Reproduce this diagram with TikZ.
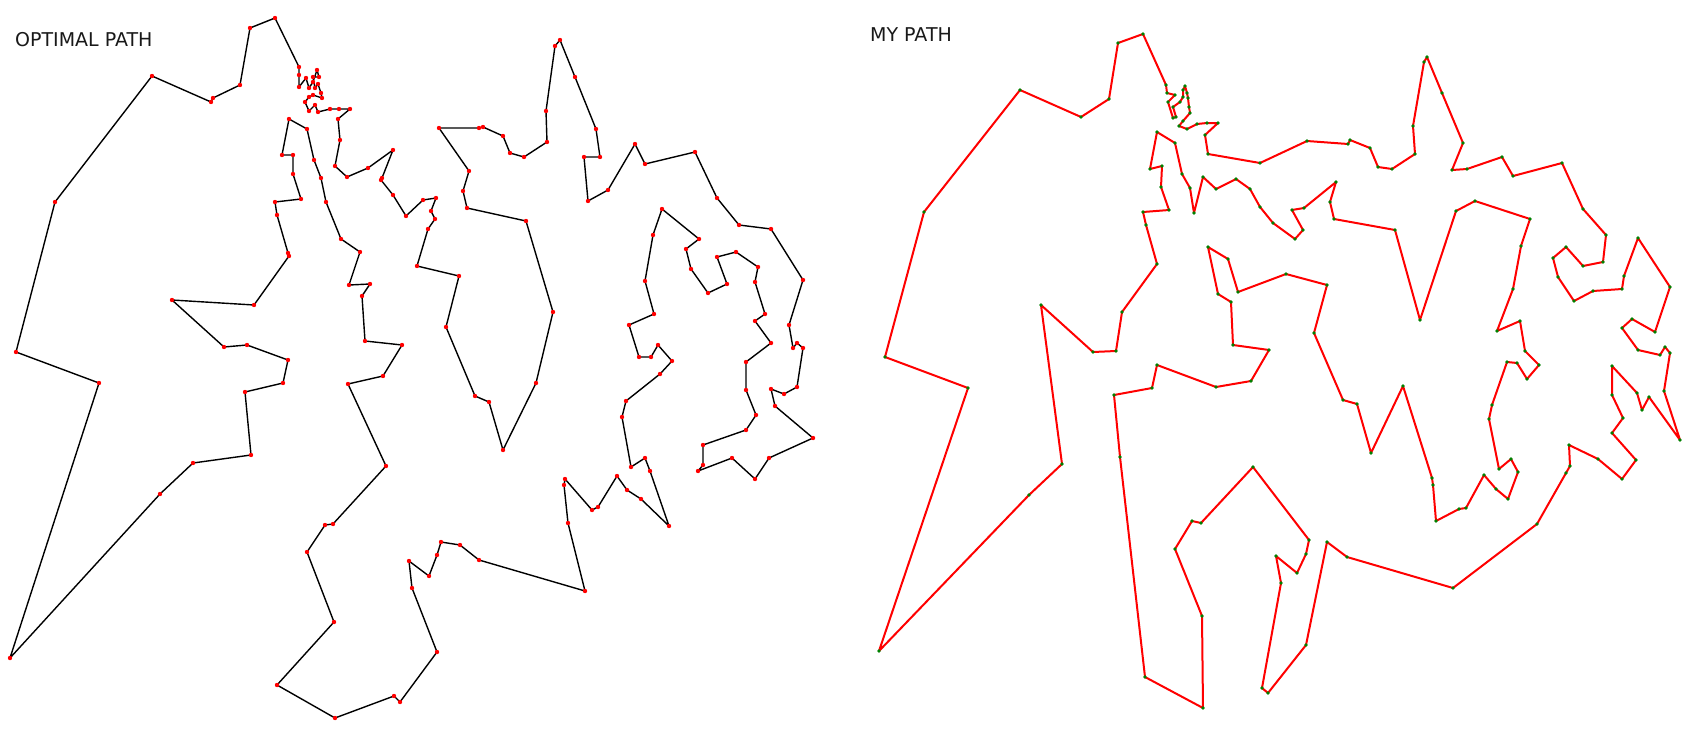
\documentclass[tikz,border=0pt]{standalone}
\usepackage{fontspec}
\setmainfont{DejaVu Sans}
\tikzset{
  lpath/.style={black, line width=1.4pt, line join=round},
  rpath/.style={red, line width=2pt, line join=round},
  ldot/.style={fill=red},
  rdot/.style={fill=green!50!black},
  title/.style={anchor=base west, inner sep=0pt, font=\fontsize{19}{22}\selectfont, text=black!90}
}
\def\Lpts{(275,18),(299,67),(299,75),(299,87),(306,78),(309,88),(313,82),(317,70),(319,77),(313,77),(315,88),(318,84),(321,93),(322,98),(313,95),(309,97),(305,102),(309,111),(315,105),(318,112),(330,109),(339,109),(350,109),(338,119),(340,140),(335,166),(347,177),(368,168),(393,150),(382,178),(381,180),(393,195),(406,216),(423,200),(436,198),(431,211),(435,219),(428,229),(417,266),(459,276),(446,327),(475,396),(489,402),(503,450),(536,383),(553,312),(526,221),(467,208),(463,191),(469,171),(439,128),(479,128),(483,127),(503,136),(510,153),(524,157),(547,142),(546,111),(555,46),(560,40),(575,77),(596,129),(600,157),(584,157),(588,201),(608,190),(635,144),(645,164),(695,152),(717,198),(739,225),(771,229),(803,280),(789,325),(793,348),(797,343),(803,348),(797,387),(784,394),(771,389),(775,406),(813,438),(769,458),(755,479),(732,458),(698,471),(703,465),(703,445),(746,430),(756,415),(746,390),(746,362),(771,343),(755,321),(765,314),(755,282),(758,267),(736,252),(717,257),(727,284),(708,293),(691,269),(686,249),(699,239),(662,209),(653,235),(645,281),(654,314),(629,325),(639,357),(651,357),(658,345),(672,361),(660,374),(626,401),(622,417),(631,467),(645,458),(650,471),(669,526),(641,499),(627,490),(617,476),(598,507),(592,510),(565,479),(564,485),(568,523),(585,591),(479,560),(460,545),(441,542),(437,555),(429,576),(409,561),(412,588),(437,652),(400,702),(394,696),(335,718),(277,685),(334,622),(307,552),(325,525),(333,524),(386,466),(348,384),(383,376),(402,345),(365,341),(362,296),(370,284),(349,285),(360,252),(341,239),(326,202),(321,178),(314,160),(307,129),(289,119),(282,155),(293,155),(293,174),(301,199),(275,202),(277,215),(288,253),(289,256),(254,305),(172,300),(224,347),(247,345),(288,360),(283,383),(245,392),(251,455),(193,463),(160,494),(10,658),(99,383),(16,352),(55,202),(152,76),(211,102),(213,98),(240,85),(250,28)}
\def\Rpts{(1143,34),(1118,43),(1109,99),(1081,117),(1020,90),(924,212),(885,357),(968,388),(879,651),(1029,495),(1062,464),(1041,305),(1093,352),(1116,351),(1122,312),(1157,264),(1146,225),(1143,212),(1169,210),(1161,187),(1162,166),(1150,169),(1157,132),(1175,143),(1182,174),(1190,188),(1194,213),(1203,177),(1216,189),(1236,179),(1250,189),(1260,207),(1273,223),(1295,239),(1303,230),(1292,210),(1304,208),(1336,182),(1330,202),(1334,219),(1395,230),(1420,320),(1456,211),(1475,201),(1530,219),(1521,246),(1513,289),(1497,331),(1520,321),(1525,351),(1539,365),(1527,379),(1517,363),(1507,362),(1492,405),(1489,419),(1499,469),(1511,459),(1518,472),(1508,499),(1496,489),(1484,475),(1466,508),(1459,509),(1436,521),(1433,485),(1432,478),(1403,386),(1371,453),(1357,404),(1343,400),(1314,333),(1327,285),(1286,274),(1238,292),(1228,259),(1208,247),(1218,294),(1231,302),(1233,345),(1269,350),(1251,381),(1216,387),(1157,365),(1152,388),(1114,395),(1120,457),(1145,677),(1203,708),(1202,616),(1175,549),(1192,521),(1201,523),(1253,467),(1309,540),(1306,554),(1297,573),(1276,556),(1281,583),(1262,688),(1268,693),(1306,645),(1327,542),(1347,557),(1453,588),(1537,524),(1566,473),(1570,466),(1569,445),(1598,459),(1622,479),(1636,460),(1612,433),(1623,418),(1612,395),(1612,366),(1637,393),(1642,410),(1649,397),(1680,440),(1664,391),(1670,353),(1665,347),(1660,355),(1638,350),(1622,328),(1632,319),(1655,332),(1670,287),(1638,238),(1624,276),(1622,289),(1593,291),(1574,301),(1558,277),(1553,258),(1566,247),(1583,266),(1603,262),(1606,235),(1583,209),(1562,163),(1513,176),(1502,157),(1467,169),(1452,170),(1463,143),(1442,93),(1427,57),(1424,62),(1413,126),(1415,154),(1392,169),(1378,167),(1370,148),(1350,140),(1348,144),(1307,141),(1260,163),(1208,154),(1205,135),(1218,123),(1207,123),(1197,124),(1187,129),(1179,126),(1183,121),(1190,113),(1189,107),(1188,98),(1187,93),(1185,86),(1183,90),(1183,97),(1180,102),(1173,107),(1176,117),(1173,118),(1168,102),(1175,95),(1167,93),(1166,85)}
\def\Lpath{}
\def\Rpath{}
\foreach \p in \Lpts {\xdef\Lpath{\Lpath -- \p}}
\foreach \p in \Rpts {\xdef\Rpath{\Rpath -- \p}}
\begin{document}
\begin{tikzpicture}[x=1pt,y=-1pt]
\fill[white] (0,0) rectangle (1700,744);
\useasboundingbox (0,0) rectangle (1700,744);
\node[title] (t1) at (15,46) {OPTIMAL PATH};
\node[title] (t2) at (870,41) {MY PATH};
\draw[lpath] (275,18) \Lpath -- cycle;
\foreach \p in \Lpts {\fill[ldot] \p circle[radius=2.2pt];}
\draw[rpath] (1143,34) \Rpath -- cycle;
\foreach \p in \Rpts {\fill[rdot] \p circle[radius=1.9pt];}
\end{tikzpicture}
\end{document}
